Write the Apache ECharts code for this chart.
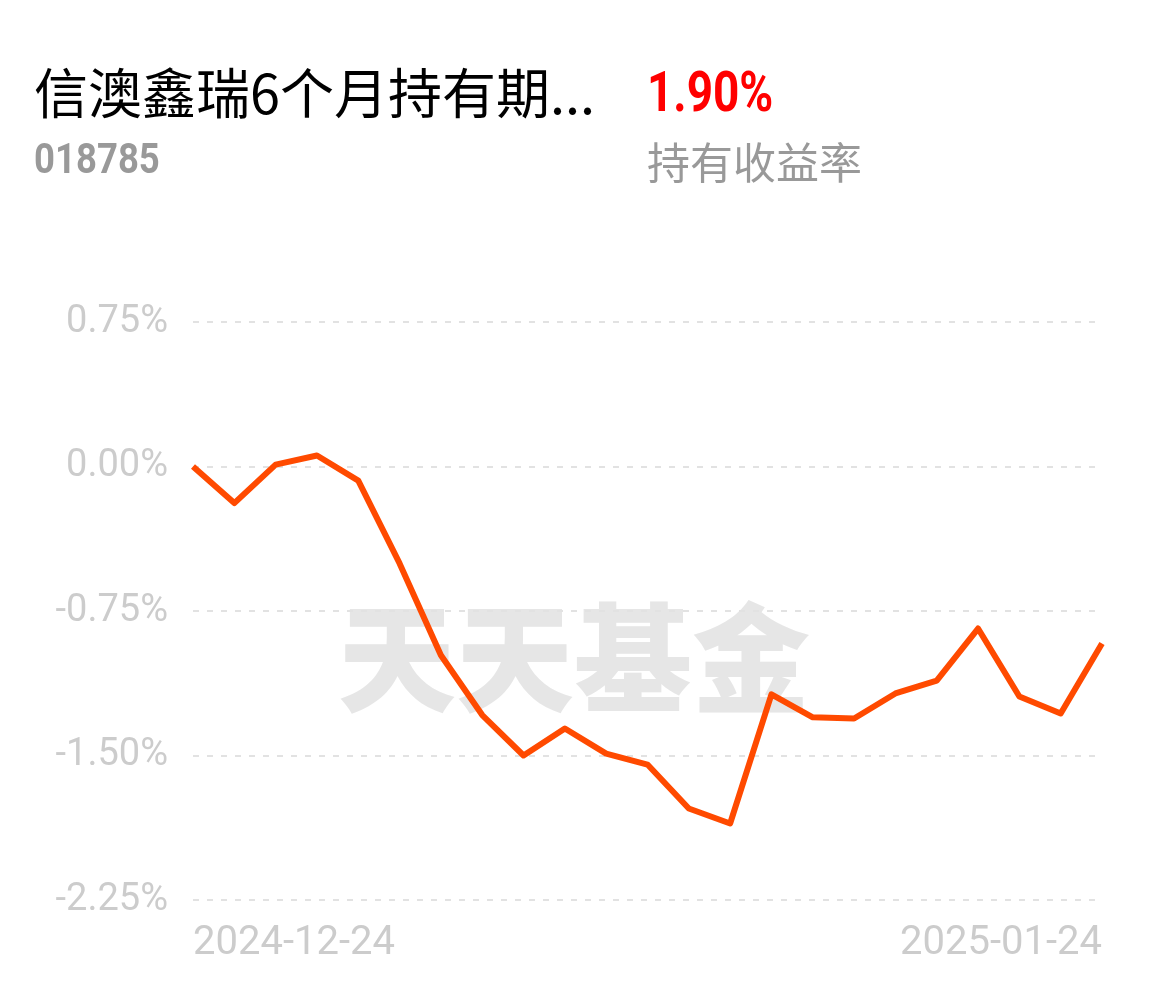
<!DOCTYPE html>
<html><head><meta charset="utf-8">
<style>html,body{margin:0;padding:0;background:#fff}#c{width:1154px;height:986px}</style>
<script src="https://cdn.jsdelivr.net/npm/echarts@6/dist/echarts.min.js"></script>
</head><body><div id="c"></div>
<script>
const dates = ['2024-12-24','2024-12-25','2024-12-26','2024-12-27','2024-12-30','2024-12-31','2025-01-02','2025-01-03','2025-01-06','2025-01-07','2025-01-08','2025-01-09','2025-01-10','2025-01-13','2025-01-14','2025-01-15','2025-01-16','2025-01-17','2025-01-20','2025-01-21','2025-01-22','2025-01-23','2025-01-24'];
const values = [0.00,-0.19,0.01,0.057,-0.073,-0.503,-0.98,-1.29,-1.50,-1.36,-1.49,-1.547,-1.775,-1.853,-1.183,-1.302,-1.308,-1.178,-1.111,-0.841,-1.194,-1.282,-0.919];
const yTicks = {min:-2.25, max:0.75, interval:0.75};
const titleText = '信澳鑫瑞6个月持有期...';
const codeText = '018785';
const rateText = '1.90%';
const rateLabel = '持有收益率';
const watermark = '天天基金';

const chart = echarts.init(document.getElementById('c'));
const cjk = '"Noto Sans CJK SC", "Noto Sans", sans-serif';
chart.setOption({
  animation:false,
  backgroundColor:'#fff',
  graphic:[
    {type:'text', x:34, y:93, style:{text:titleText, font:'400 54px '+cjk, fill:'#000', verticalAlign:'middle'}},
    {type:'text', x:647, y:97, scaleX:0.82, style:{text:rateText, font:'700 56px Roboto, '+cjk, fill:'#ff0000', verticalAlign:'middle'}},
    {type:'text', x:34, y:162, scaleX:0.85, style:{text:codeText, font:'700 43px Roboto, '+cjk, fill:'#999', verticalAlign:'middle'}},
    {type:'text', x:647, y:163, style:{text:rateLabel, font:'400 43px '+cjk, fill:'#999', verticalAlign:'middle'}},
    {type:'text', x:338, y:658, z:-1, style:{text:watermark, font:'900 118px '+cjk, fill:'#e6e6e6', verticalAlign:'middle'}}
  ],
  grid:{left:193, right:52, top:322, bottom:86, containLabel:false},
  xAxis:{
    type:'category', data:dates, boundaryGap:false,
    axisLine:{show:false}, axisTick:{show:false}, splitLine:{show:false},
    axisLabel:{interval:21, margin:24, color:'#cccccc', fontSize:40, fontFamily:'Roboto',
      alignMinLabel:'left', alignMaxLabel:'right'}
  },
  yAxis:{
    type:'value', min:yTicks.min, max:yTicks.max, interval:yTicks.interval,
    axisLine:{show:false}, axisTick:{show:false},
    axisLabel:{margin:25, color:'#cccccc', fontSize:38, fontFamily:'Roboto',
      formatter:v=>v.toFixed(2)+'%'},
    splitLine:{show:true, lineStyle:{color:'#e2e2e2', width:2, type:[6,8]}}
  },
  series:[{
    type:'line', data:values, symbol:'none', smooth:false,
    lineStyle:{color:'#ff4a00', width:6, join:'round'}
  }]
});
</script></body></html>
